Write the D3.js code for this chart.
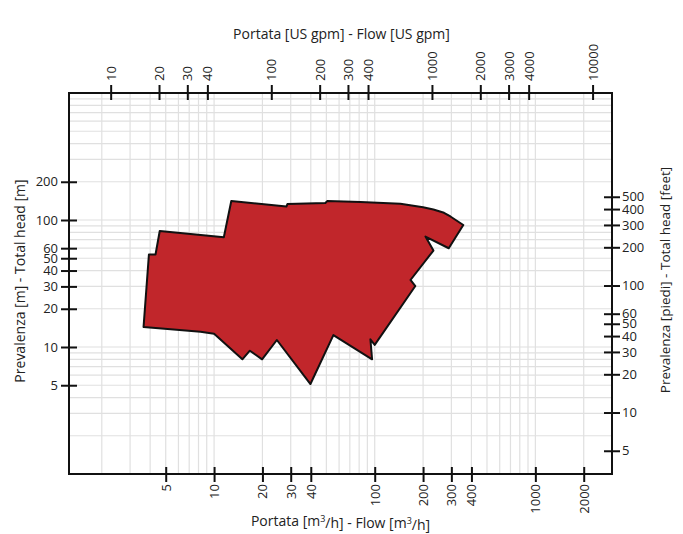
<!DOCTYPE html>
<html>
<head>
<meta charset="utf-8">
<script src="https://cdn.jsdelivr.net/npm/d3@7"></script>
<style>
  html, body { margin: 0; padding: 0; background: #fff; }
  svg { display: block; }
  text { font-family: "Open Sans", "Noto Sans", sans-serif; fill: #222; }
</style>
</head>
<body>
<svg id="chart" width="683" height="534"></svg>
<script>
// ---- data (flow in m3/h, head in m) ----
const envelopeFlow = [4.59, 11.5, 12.8, 28.2, 28.6, 49.3, 50.6, 81.5, 144.5, 200, 232, 270, 296, 356,
  289, 207, 232, 167, 179, 100, 94, 96.3, 55.3, 39.8, 24.6, 19.9, 16.7, 15.0, 10.0, 8.23, 3.64, 3.93, 4.32];
const envelopeHead = [81.9, 73.1, 141, 127.7, 133.6, 136, 141, 138.6, 134, 126, 121, 114, 106.6, 91.3,
  59.9, 74.1, 57.5, 33.7, 30.2, 10.4, 11.5, 8.0, 12.4, 5.11, 11.35, 8.0, 9.35, 8.0, 12.7, 13.2, 14.4, 53.5, 53.5];

const bottomTicks = [5, 10, 20, 30, 40, 100, 200, 300, 400, 1000, 2000];          // m3/h
const topTicks = [10, 20, 30, 40, 100, 200, 300, 400, 1000, 2000, 3000, 4000, 10000]; // US gpm
const leftTicks = [5, 10, 20, 30, 40, 50, 60, 100, 200];                          // m
const rightTicks = [5, 10, 20, 30, 40, 50, 60, 100, 200, 300, 400, 500];          // feet

const gridFlow = [2, 3, 4, 5, 6, 7, 8, 9, 10, 20, 30, 40, 50, 60, 70, 80, 90,
  100, 200, 300, 400, 500, 600, 700, 800, 900, 1000, 2000];
const gridHead = [2, 3, 4, 5, 6, 7, 8, 9, 10, 20, 30, 40, 50, 60, 70, 80, 90,
  100, 200, 300, 400, 500, 600, 700, 800, 900];

const M3H_TO_GPM = 4.40287;
const M_TO_FT = 3.28084;

// ---- layout ----
const L = 69, R = 612, T = 93, B = 474;
const svg = d3.select("#chart");

const x = d3.scaleLog().domain([1.25, 3000]).range([L, R]);
const y = d3.scaleLog().domain([1, 1000]).range([B, T]);
const xg = d3.scaleLog().domain([1.25 * M3H_TO_GPM, 3000 * M3H_TO_GPM]).range([L, R]);
const yf = d3.scaleLog().domain([M_TO_FT, 1000 * M_TO_FT]).range([B, T]);

// grid
const grid = svg.append("g").attr("stroke", "#e0e0e0").attr("stroke-width", 1.2);
grid.selectAll("line.v").data(gridFlow).enter().append("line")
  .attr("x1", d => x(d)).attr("x2", d => x(d)).attr("y1", T).attr("y2", B);
grid.selectAll("line.h").data(gridHead).enter().append("line")
  .attr("y1", d => y(d)).attr("y2", d => y(d)).attr("x1", L).attr("x2", R);

// envelope polygon
const pts = envelopeFlow.map((f, i) => [x(f), y(envelopeHead[i])]);
svg.append("path")
  .attr("d", d3.line().curve(d3.curveLinearClosed)(pts))
  .attr("fill", "#c1262b")
  .attr("stroke", "#111")
  .attr("stroke-width", 2)
  .attr("stroke-linejoin", "round");

// frame
svg.append("rect").attr("x", L).attr("y", T).attr("width", R - L).attr("height", B - T)
  .attr("fill", "none").attr("stroke", "#111").attr("stroke-width", 2);

const fmt = d => String(d);
const FS = "13px";
const TFS = "14px";

// bottom axis
const gb = svg.append("g").attr("transform", `translate(0,${B})`)
  .call(d3.axisBottom(x).tickValues(bottomTicks).tickFormat(fmt));
gb.select(".domain").remove();
gb.selectAll(".tick line").attr("y1", -7).attr("y2", 8).attr("stroke", "#111").attr("stroke-width", 2);
gb.selectAll(".tick text").attr("transform", "rotate(-90)")
  .attr("x", -10).attr("y", 0).attr("dy", "0.35em")
  .attr("text-anchor", "end").style("font-size", FS);

// top axis
const gt = svg.append("g").attr("transform", `translate(0,${T})`)
  .call(d3.axisTop(xg).tickValues(topTicks).tickFormat(fmt));
gt.select(".domain").remove();
gt.selectAll(".tick line").attr("y1", -8).attr("y2", 7).attr("stroke", "#111").attr("stroke-width", 2);
gt.selectAll(".tick text").attr("transform", "rotate(-90)")
  .attr("x", 12).attr("y", 0).attr("dy", "0.35em")
  .attr("text-anchor", "start").style("font-size", FS);

// left axis
const gl = svg.append("g").attr("transform", `translate(${L},0)`)
  .call(d3.axisLeft(y).tickValues(leftTicks).tickFormat(fmt));
gl.select(".domain").remove();
gl.selectAll(".tick line").attr("x1", -8).attr("x2", 8).attr("stroke", "#111").attr("stroke-width", 2);
gl.selectAll(".tick text").attr("x", -11).style("font-size", FS);

// right axis
const gr = svg.append("g").attr("transform", `translate(${R},0)`)
  .call(d3.axisRight(yf).tickValues(rightTicks).tickFormat(fmt));
gr.select(".domain").remove();
gr.selectAll(".tick line").attr("x1", -8).attr("x2", 8).attr("stroke", "#111").attr("stroke-width", 2);
gr.selectAll(".tick text").attr("x", 10).style("font-size", FS);

// titles
svg.append("text").attr("x", (L + R) / 2 + 1).attr("y", 39).attr("text-anchor", "middle")
  .style("font-size", TFS).text("Portata [US gpm] - Flow [US gpm]");

const bt = svg.append("text").attr("x", (L + R) / 2).attr("y", 526).attr("text-anchor", "middle")
  .style("font-size", TFS);
bt.append("tspan").text("Portata [m");
bt.append("tspan").attr("dy", "-0.4em").style("font-size", "9px").text("3");
bt.append("tspan").attr("dy", "0.4em").text("/h] - Flow [m");
bt.append("tspan").attr("dy", "-0.4em").style("font-size", "9px").text("3");
bt.append("tspan").attr("dy", "0.4em").text("/h]");

svg.append("text").attr("transform", `translate(25,281) rotate(-90)`)
  .attr("text-anchor", "middle").style("font-size", TFS)
  .text("Prevalenza [m] - Total head [m]");

svg.append("text").attr("transform", `translate(670,280) rotate(-90)`)
  .attr("text-anchor", "middle").style("font-size", "13.5px")
  .text("Prevalenza [piedi] - Total head [feet]");
</script>
</body>
</html>
